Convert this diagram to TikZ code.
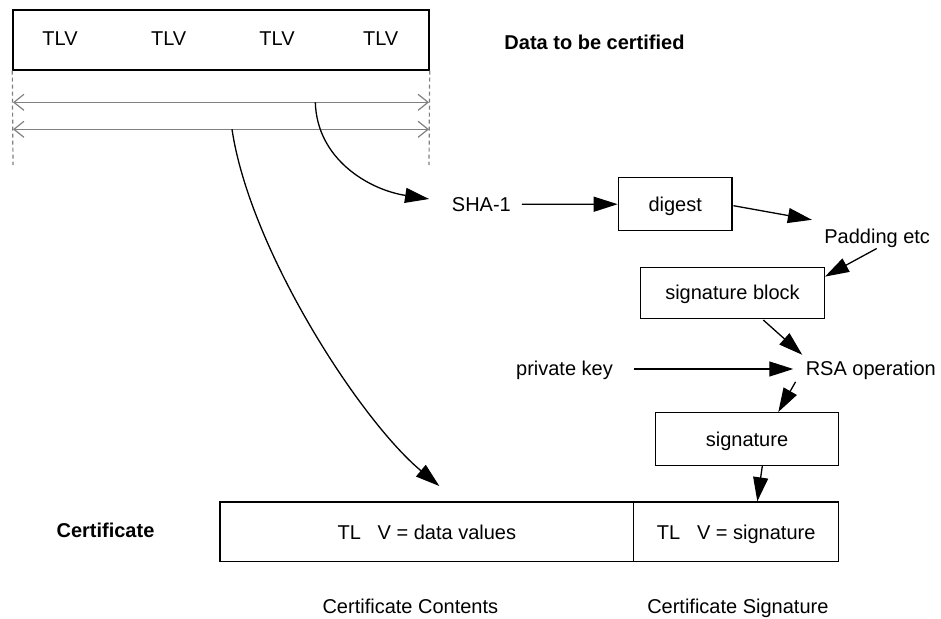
\documentclass[tikz,border=0pt]{standalone}
\usepackage{fontspec}
\setmainfont{Liberation Sans}
\usetikzlibrary{arrows.meta,calc}
\begin{document}
\begin{tikzpicture}[x=1pt,y=-1pt,
  lbl/.style={inner sep=0pt, text height=14.3pt, text depth=0pt, font=\fontsize{20}{24}\selectfont},
  blbl/.style={lbl, font=\fontsize{20}{24}\selectfont\bfseries},
  box/.style={lbl, draw, line width=1.4pt},
  arr/.style={line width=1.3pt, -{Triangle[length=24pt,width=15pt]}},
  garr/.style={color=gray, line width=1.2pt, {Straight Barb[length=10pt,width=16pt]}-{Straight Barb[length=10pt,width=16pt]}},
  gdash/.style={color=gray, line width=1.2pt, dash pattern=on 4pt off 3pt}]
\useasboundingbox (0,0) rectangle (941,618);

% data to be certified
\node[box, minimum width=416pt, minimum height=60pt] (data) at (221,40) {};
\node[lbl] (t1) at (60,38.8) {TLV};
\node[lbl] (t2) at (168.7,38.8) {TLV};
\node[lbl] (t3) at (277,38.8) {TLV};
\node[lbl] (t4) at (380.7,38.8) {TLV};
\node[blbl] (title) at (594.5,42.5) {Data to be certified};

\coordinate (ga1) at (13,102.3);
\coordinate (ga2) at (429,102.3);
\coordinate (gb1) at (13,129.3);
\coordinate (gb2) at (429,129.3);
\coordinate (dl) at (13,165);
\coordinate (dr) at (429,165);
\draw[gdash] (data.south west) -- (dl);
\draw[gdash] (data.south east) -- (dr);
\draw[garr] (ga1) -- (ga2);
\draw[garr] (gb1) -- (gb2);

% processing chain
\node[lbl] (sha) at (481.4,204.3) {SHA-1};
\node[box, minimum width=113.7pt, minimum height=53pt] (dig) at (675.2,204.2) {digest};
\node[lbl] (pad) at (877.2,236) {Padding etc};
\node[box, minimum width=183.6pt, minimum height=51pt] (sb) at (732.5,292.8) {signature block};
\node[lbl] (priv) at (564.5,368.8) {private key};
\node[lbl] (rsa) at (870.8,368.8) {RSA operation};
\node[box, minimum width=183.4pt, minimum height=52.6pt] (sig) at (747,439) {signature};

% certificate
\node[box, minimum width=413.7pt, minimum height=59.7pt] (cc) at (426.85,531.85) {TL\hspace{16.7pt}V = data values};
\node[box, minimum width=205pt, minimum height=59.7pt] (cs) at (736.2,531.85) {TL\hspace{16.7pt}V = signature};
\node[blbl] (cert) at (105.5,530.8) {Certificate};
\node[lbl] (ccl) at (410.35,606.5) {Certificate Contents};
\node[lbl] (csl) at (737.85,606.5) {Certificate Signature};

% curved connectors
\coordinate (c1) at (315.3,102.3);
\coordinate (c2) at (232,129.3);
\draw[arr] (c1) .. controls (317,160) and (370,190) .. ($(sha.west)+(-22.7,-5.3)$);
\draw[arr] (c2) .. controls (250,250) and (360,420) .. ($(cc.north)+(12.45,-15.3)$);

% straight connectors
\draw[arr] ($(sha.east)+(10.7,0)$) -- (dig.west);
\draw[arr] ($(dig.east)+(0.7,1.5)$) -- ($(pad.north west)+(-12.3,-8.85)$);
\draw[arr] ($(pad.south)+(-0.5,5.15)$) -- ($(sb.north east)+(0,10)$);
\draw[arr] ($(sb.south)+(30.8,1)$) -- ($(rsa.north west)+(-3.3,-6.65)$);
\draw[arr] ($(priv.east)+(21,0.2)$) -- ($(rsa.west)+(-12.3,0.2)$);
\draw[arr] ($(rsa.south west)+(-10,5.7)$) -- ($(sig.north)+(31.3,0)$);
\draw[arr] ($(sig.south)+(15.3,0)$) -- ($(cs.north)+(21.1,0)$);
\end{tikzpicture}
\end{document}
